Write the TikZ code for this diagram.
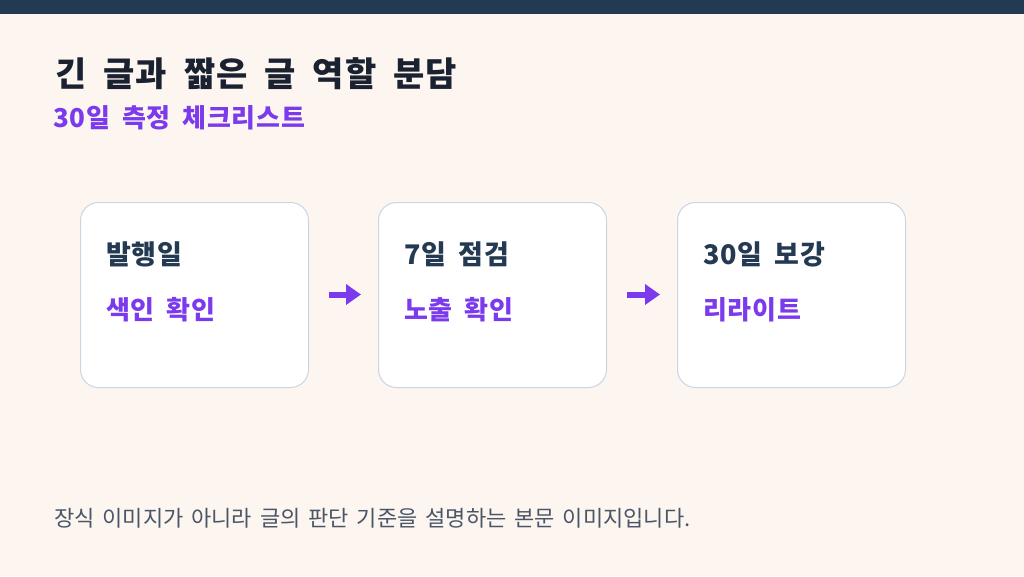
\documentclass[tikz,border=0pt]{standalone}
\usepackage{fontspec}
\setmainfont{Noto Sans CJK KR}
\usetikzlibrary{arrows.meta}
\definecolor{bg}{HTML}{FDF6F0}
\definecolor{navy}{HTML}{243A52}
\definecolor{titlec}{HTML}{1A2130}
\definecolor{purp}{HTML}{7C3AED}
\definecolor{bord}{HTML}{CBD5E1}
\definecolor{foot}{HTML}{4A5568}
\tikzset{
  txt/.style={anchor=base west, inner sep=0pt},
  card/.style={draw=bord, line width=1pt, fill=white, rounded corners=18pt, minimum width=228pt, minimum height=185pt, anchor=north west},
  cardhead/.style={txt, text=navy, font={\fontsize{27}{32}\selectfont\bfseries\addfontfeatures{LetterSpace=3}\spaceskip=0.45em\relax}},
  cardsub/.style={txt, text=purp, font={\fontsize{26}{30}\selectfont\bfseries\addfontfeatures{LetterSpace=3}\spaceskip=0.45em\relax}},
  flow/.style={draw=purp, line width=6pt, -{Triangle[length=15pt,width=20pt]}, shorten <=20pt, shorten >=17pt}
}
\begin{document}
\begin{tikzpicture}[x=1pt,y=-1pt]
\useasboundingbox (0,0) rectangle (1024,576);
\fill[bg] (0,0) rectangle (1024,576);
\fill[navy] (0,0) rectangle (1024,14);
\node[txt, text=titlec, font={\fontsize{34}{40}\selectfont\bfseries\addfontfeatures{LetterSpace=3}\spaceskip=0.5em\relax}] (title) at (55,86) {긴 글과 짧은 글 역할 분담};
\node[txt, text=purp, font={\fontsize{26}{30}\selectfont\bfseries\addfontfeatures{LetterSpace=3}\spaceskip=0.45em\relax}] (sub) at (53,127) {30일 측정 체크리스트};
\node[card] (b1) at (80,202) {};
\node[card] (b2) at (378,202) {};
\node[card] (b3) at (677,202) {};
\node[cardhead] (h1) at (106,264) {발행일};
\node[cardsub] (s1) at (106,319) {색인 확인};
\node[cardhead] (h2) at (404,264) {7일 점검};
\node[cardsub] (s2) at (404,319) {노출 확인};
\node[cardhead] (h3) at (703,264) {30일 보강};
\node[cardsub] (s3) at (703,319) {리라이트};
\draw[flow] (b1.east |- 0,294.5) -- (b2.west |- 0,294.5);
\draw[flow] (b2.east |- 0,294.5) -- (b3.west |- 0,294.5);
\node[txt, text=foot, font={\fontsize{22}{26}\selectfont\spaceskip=0.36em\relax}] (foot) at (54,526) {장식 이미지가 아니라 글의 판단 기준을 설명하는 본문 이미지입니다.};
\end{tikzpicture}
\end{document}
